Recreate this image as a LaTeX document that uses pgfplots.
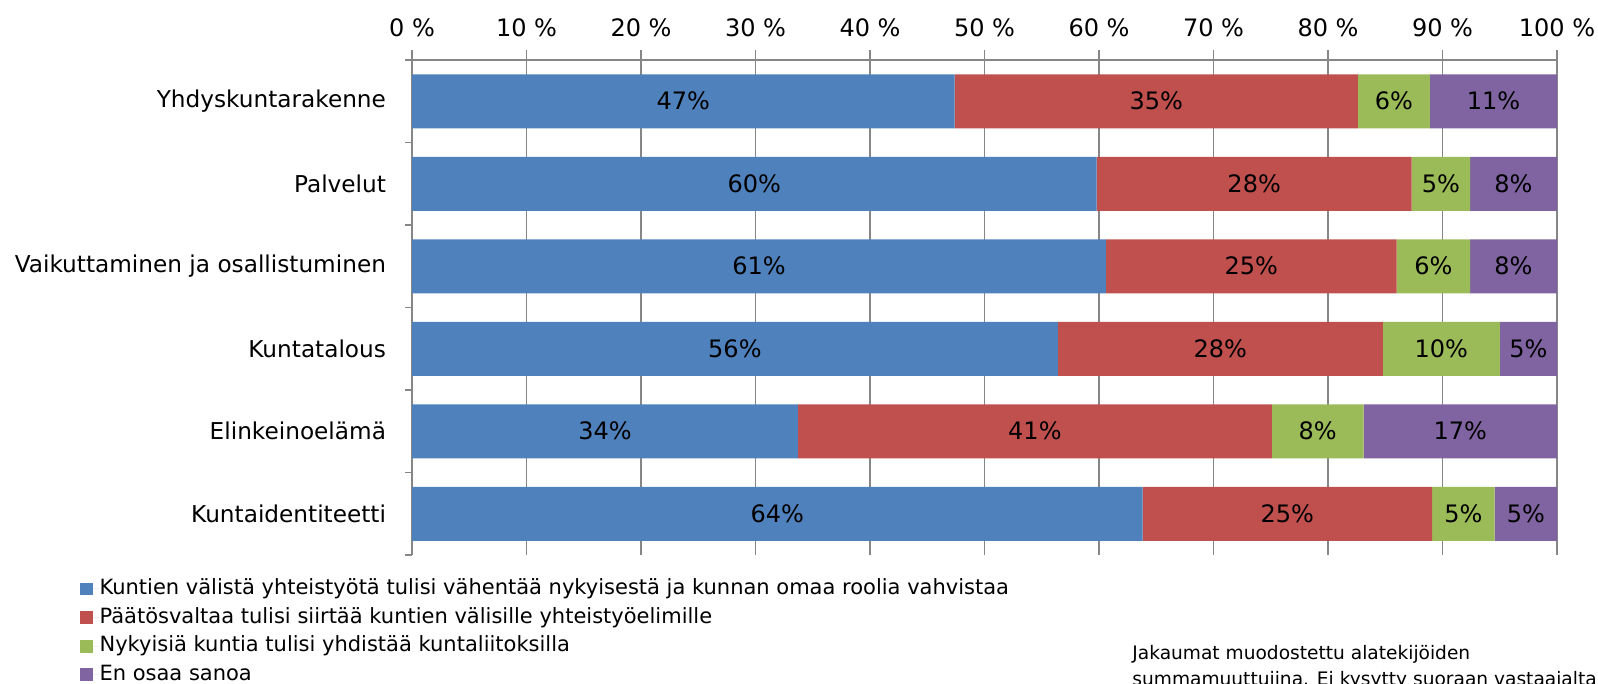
\documentclass[border=0pt]{standalone}
\usepackage{fontspec}
\setmainfont{DejaVu Sans}
\usepackage{pgfplots}
\usepackage{pgfplotstable}
\pgfplotsset{compat=1.18}
\definecolor{cblue}{HTML}{4F81BD}
\definecolor{cred}{HTML}{C0504D}
\definecolor{cgreen}{HTML}{9BBB59}
\definecolor{cpurple}{HTML}{8064A2}
\definecolor{cgrid}{HTML}{868686}
\pgfplotstableread{
c blue red green purple
0 47.4 35.2 6.3 11.1
1 59.8 27.5 5.1 7.6
2 60.6 25.4 6.4 7.6
3 56.4 28.4 10.2 5.0
4 33.7 41.4 8.0 16.9
5 63.8 25.3 5.45 5.45
}\datatable
\begin{document}
\begin{tikzpicture}[x=0.5pt,y=0.5pt]
\useasboundingbox (0,0) rectangle (1598,684);
\begin{axis}[
  at={(206pt,64.5pt)}, anchor=south west,
  width=572.5pt, height=247.5pt, scale only axis,
  xbar stacked, bar width=0.6545,
  xmin=0, xmax=100, ymin=-0.5, ymax=5.5, y dir=reverse,
  axis x line*=top, axis y line*=left,
  axis line style={cgrid, line width=0.75pt},
  xtick={0,10,...,100},
  xticklabels={0 \%,10 \%,20 \%,30 \%,40 \%,50 \%,60 \%,70 \%,80 \%,90 \%,100 \%},
  ytick={0,...,5},
  yticklabels={Yhdyskuntarakenne,Palvelut,Vaikuttaminen ja osallistuminen,Kuntatalous,Elinkeinoelämä,Kuntaidentiteetti},
  minor ytick={-0.5,0.5,...,5.5},
  tick align=outside,
  major tick length=5pt, minor tick length=3.5pt,
  major x tick style={cgrid, line width=0.75pt},
  major y tick style={draw=none},
  minor y tick style={cgrid, line width=0.75pt},
  xmajorgrids, major grid style={cgrid, line width=0.75pt},
  xticklabel style={font=\fontsize{12pt}{14pt}\selectfont, yshift=3pt},
  yticklabel style={font=\fontsize{11.6pt}{14pt}\selectfont, xshift=-4.5pt},
  point meta=explicit symbolic,
  nodes near coords={\pgfmathprintnumber[fixed,precision=0,assume math mode=true]{\pgfplotspointmeta}\%},
  every node near coord/.append style={anchor=center, font=\fontsize{12pt}{14pt}\selectfont, text=black},
  legend style={at={(-0.29,-0.048)}, anchor=north west, draw=none, fill=none,
    font=\fontsize{10.5pt}{12pt}\selectfont, inner sep=0pt,
    nodes={inner sep=0pt, text height=7.8pt, text depth=2pt}, row sep=4.5pt},
  legend cell align=left,
  legend image code/.code={\fill[#1] (0pt,-3.2pt) rectangle (6.2pt,3.2pt); \path (0pt,0pt) -- (9.6pt,0pt);},
  legend columns=1,
]
\addplot[fill=cblue, draw=none] table[x=blue, y=c, meta=blue] {\datatable};
\addplot[fill=cred, draw=none] table[x=red, y=c, meta=red] {\datatable};
\addplot[fill=cgreen, draw=none] table[x=green, y=c, meta=green] {\datatable};
\addplot[fill=cpurple, draw=none] table[x=purple, y=c, meta=purple] {\datatable};
\legend{Kuntien välistä yhteistyötä tulisi vähentää nykyisestä ja kunnan omaa roolia vahvistaa,
Päätösvaltaa tulisi siirtää kuntien välisille yhteistyöelimille,
Nykyisiä kuntia tulisi yhdistää kuntaliitoksilla,
En osaa sanoa}
\end{axis}
\node[anchor=base west, inner sep=0pt, font=\fontsize{9.3pt}{12pt}\selectfont] at (1132,24) {Jakaumat muodostettu alatekijöiden};
\node[anchor=base west, inner sep=0pt, font=\fontsize{9.3pt}{12pt}\selectfont] at (1132,-2) {summamuuttujina. Ei kysytty suoraan vastaajalta};
\end{tikzpicture}
\end{document}
